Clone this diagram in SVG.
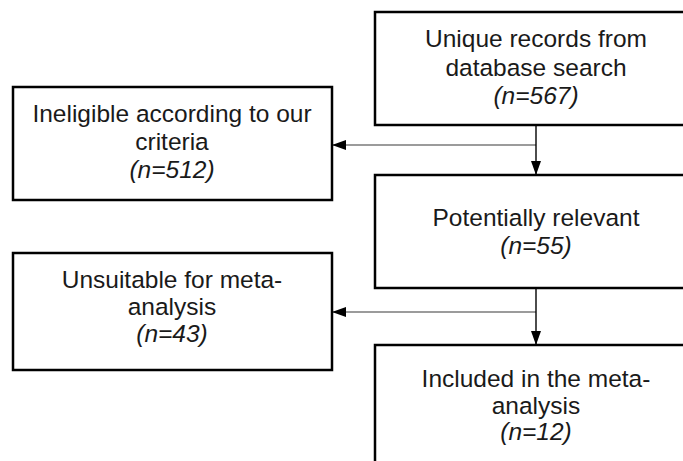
<svg xmlns="http://www.w3.org/2000/svg" width="683" height="461" viewBox="0 0 683 461">
<style>
.box{fill:#fff;stroke:#000;stroke-width:2.5}
.t{font-family:"Liberation Sans",Arial,sans-serif;font-size:24.5px;fill:#1a1a1a;text-anchor:middle}
.i{font-style:italic}
.v{stroke:#000;stroke-width:1.4;fill:none}
.h{stroke:#7a7a7a;stroke-width:1.6;fill:none}
</style>
<defs>
<marker id="ah" markerUnits="userSpaceOnUse" markerWidth="15" markerHeight="11" refX="14" refY="5" orient="auto">
<path d="M0,0 L14,5 L0,10 Z" fill="#000"/>
</marker>
</defs>
<rect width="683" height="461" fill="#fff"/>
<g id="connectors">
<path class="h" d="M536,145 H332" marker-end="url(#ah)"/>
<path class="v" d="M536,125 V175" marker-end="url(#ah)"/>
<path class="h" d="M536,312 H332" marker-end="url(#ah)"/>
<path class="v" d="M536,288 V345" marker-end="url(#ah)"/>
</g>
<g id="n1">
<rect class="box" x="375" y="12" width="322" height="113"/>
<text class="t" x="536" y="47">Unique records from</text>
<text class="t" x="536" y="76">database search</text>
<text class="t i" x="536" y="104">(n=567)</text>
</g>
<g id="n2">
<rect class="box" x="13" y="87" width="319" height="113"/>
<text class="t" x="172" y="122">Ineligible according to our</text>
<text class="t" x="172" y="150">criteria</text>
<text class="t i" x="172" y="178">(n=512)</text>
</g>
<g id="n3">
<rect class="box" x="375" y="175" width="322" height="113"/>
<text class="t" x="536" y="226">Potentially relevant</text>
<text class="t i" x="536" y="254">(n=55)</text>
</g>
<g id="n4">
<rect class="box" x="13" y="253" width="319" height="117"/>
<text class="t" x="172" y="288">Unsuitable for meta-</text>
<text class="t" x="172" y="315">analysis</text>
<text class="t i" x="172" y="342">(n=43)</text>
</g>
<g id="n5">
<rect class="box" x="375" y="345" width="322" height="130"/>
<text class="t" x="536" y="387">Included in the meta-</text>
<text class="t" x="536" y="414">analysis</text>
<text class="t i" x="536" y="440">(n=12)</text>
</g>
</svg>
